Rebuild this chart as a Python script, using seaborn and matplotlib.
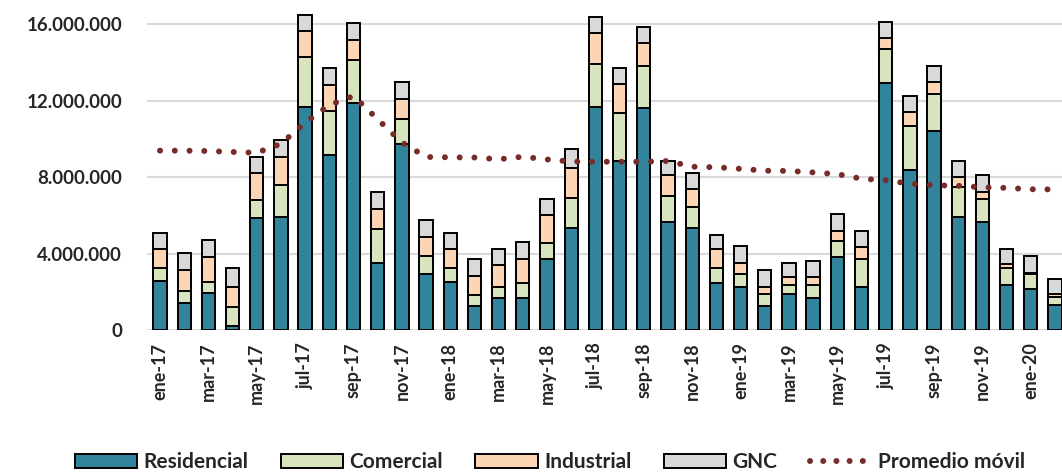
import numpy as np
import pandas as pd
import matplotlib
matplotlib.use("Agg")
import matplotlib.pyplot as plt
from matplotlib.patches import Patch
from matplotlib.lines import Line2D
from matplotlib.ticker import FuncFormatter
import seaborn as sns

# Monthly gas consumption by sector (millions), Jan 2017 - Feb 2020
months = [f"{m}-{y}" for y in ("17", "18", "19") for m in
          ("ene", "feb", "mar", "abr", "may", "jun", "jul", "ago", "sep", "oct", "nov", "dic")]
months += ["ene-20", "feb-20"]

residencial = [2.57, 1.40, 1.95, 0.21, 5.85, 5.93, 11.69, 9.16, 11.87, 3.49, 9.74, 2.93,
               2.53, 1.27, 1.66, 1.66, 3.70, 5.36, 11.69, 8.86, 11.61, 5.67, 5.36, 2.44,
               2.27, 1.27, 1.87, 1.66, 3.81, 2.24, 12.95, 8.38, 10.43, 5.93, 5.67, 2.36,
               2.15, 1.31]
comercial = [0.69, 0.66, 0.58, 0.98, 0.96, 1.66, 2.62, 2.32, 2.27, 1.78, 1.29, 0.94,
             0.70, 0.58, 0.61, 0.78, 0.87, 1.57, 2.24, 2.52, 2.23, 1.35, 1.06, 0.79,
             0.66, 0.60, 0.49, 0.70, 0.87, 1.46, 1.75, 2.32, 1.93, 1.57, 1.17, 0.87,
             0.78, 0.43]
industrial = [0.96, 1.08, 1.28, 1.08, 1.39, 1.45, 1.36, 1.35, 1.04, 1.05, 1.05, 1.01,
              0.99, 0.99, 1.13, 1.28, 1.45, 1.54, 1.64, 1.48, 1.17, 1.10, 0.96, 0.99,
              0.56, 0.40, 0.40, 0.40, 0.52, 0.63, 0.57, 0.70, 0.61, 0.49, 0.40, 0.21,
              0.05, 0.14]
gnc = [0.87, 0.87, 0.90, 0.96, 0.87, 0.91, 0.82, 0.90, 0.91, 0.89, 0.89, 0.88,
       0.87, 0.88, 0.82, 0.87, 0.82, 0.99, 0.80, 0.87, 0.87, 0.74, 0.82, 0.75,
       0.91, 0.87, 0.76, 0.87, 0.86, 0.87, 0.87, 0.87, 0.87, 0.87, 0.88, 0.78,
       0.88, 0.77]
promedio_movil = [9.39, 9.39, 9.37, 9.32, 9.28, 9.75, 10.85, 11.78, 12.25, 11.03, 9.82, 9.06,
                  9.04, 9.03, 8.94, 9.07, 8.93, 8.82, 8.81, 8.81, 8.81, 8.85, 8.55, 8.52,
                  8.44, 8.34, 8.33, 8.25, 8.16, 7.92, 7.84, 7.66, 7.58, 7.55, 7.47, 7.44,
                  7.37, 7.36]

series = ["Residencial", "Comercial", "Industrial", "GNC"]
colors = {"Residencial": "#31849B", "Comercial": "#D7E4BD",
          "Industrial": "#FCD5B5", "GNC": "#D9D9D9"}
line_color = "#772C2A"
text_color = "#262626"

df = pd.DataFrame({"mes": months,
                   "Residencial": np.array(residencial) * 1e6,
                   "Comercial": np.array(comercial) * 1e6,
                   "Industrial": np.array(industrial) * 1e6,
                   "GNC": np.array(gnc) * 1e6,
                   "promedio": np.array(promedio_movil) * 1e6})
cum = df[series].cumsum(axis=1)

sns.set_theme(style="white")
plt.rcParams["font.family"] = ["Lato", "DejaVu Sans"]
plt.rcParams["font.weight"] = "bold"

fig = plt.figure(figsize=(10.62, 4.72), dpi=100)
ax = fig.add_axes([0.1387, 0.3008, 0.8613, 0.6799])

# Stacked bars: draw cumulative totals from the top segment down
for name in reversed(series):
    sns.barplot(x=df["mes"], y=cum[name], color=colors[name], order=months,
                edgecolor="black", linewidth=1.4, width=0.55, saturation=1,
                ax=ax, zorder=3)

sns.lineplot(x=np.arange(len(months)), y=df["promedio"], ax=ax, color=line_color,
             linewidth=4.3, linestyle=(0, (0.01, 2.46)), dash_capstyle="round",
             zorder=4)
for ln in ax.lines:
    ln.set_dash_capstyle("round")

ax.set_xlim(-0.525, 37.29)
ax.set_ylim(0, 16.8e6)
ax.set_yticks([0, 4e6, 8e6, 12e6, 16e6])
ax.yaxis.set_major_formatter(FuncFormatter(lambda v, p: f"{int(v):,}".replace(",", ".")))
ax.grid(axis="y", color="#D9D9D9", linewidth=1.5, zorder=0)
ax.grid(axis="x", visible=False)
ax.set_axisbelow(True)
for s in ax.spines.values():
    s.set_visible(False)

ax.set_xticks(np.arange(0, len(months), 2))
ax.set_xticklabels(months[::2], rotation=90)
ax.tick_params(axis="x", length=0, pad=9, labelsize=13, labelcolor=text_color)
ax.tick_params(axis="y", length=0, pad=18, labelsize=13.5, labelcolor=text_color)
for lab in ax.get_xticklabels() + ax.get_yticklabels():
    lab.set_fontweight("bold")
ax.set_xlabel("")
ax.set_ylabel("")

handles = [Patch(facecolor=colors[n], edgecolor="black", linewidth=1.4) for n in series]
handles.append(Line2D([0], [0], color=line_color, linewidth=4.3,
                      linestyle=(0, (0.01, 2.2)), dash_capstyle="round"))
fig.legend(handles, series + ["Promedio móvil"], loc="center",
           bbox_to_anchor=(0.518, 0.021), ncol=5, frameon=False,
           prop={"size": 15, "weight": "bold"}, labelcolor=text_color,
           handlelength=3.0, handleheight=0.63, handletextpad=0.3,
           columnspacing=1.55)

fig.savefig("out.png", dpi=100)
